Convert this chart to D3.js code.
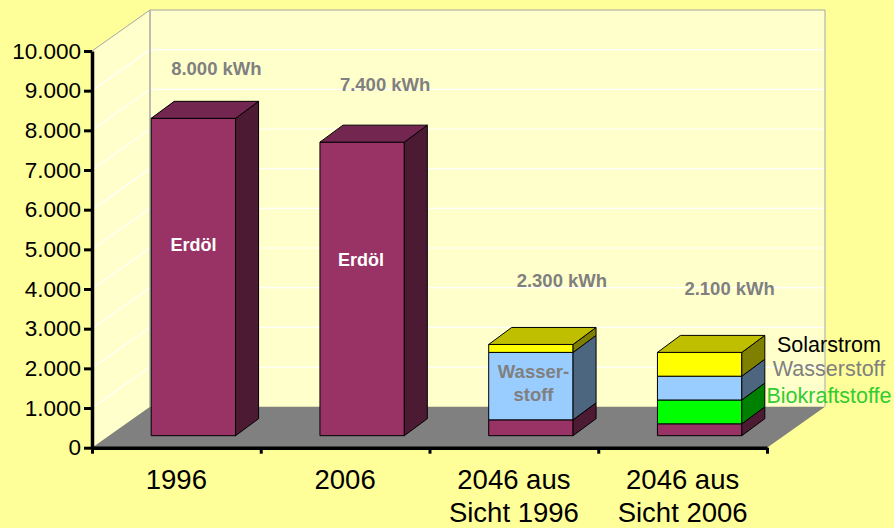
<!DOCTYPE html>
<html>
<head>
<meta charset="utf-8">
<script src="https://cdn.jsdelivr.net/npm/d3@7"></script>
<style>
  body { margin: 0; background: #ffff99; }
  svg { display: block; font-family: "Liberation Sans", Arial, sans-serif; }
</style>
</head>
<body>
<div id="chartPlaceholder"></div>
<script>
const categories = ["1996", "2006", "2046 aus|Sicht 1996", "2046 aus|Sicht 2006"];
const erdoel = [8000, 7400, 400, 300];
const biokraftstoffe = [0, 0, 0, 600];
const wasserstoff = [0, 0, 1700, 600];
const solarstrom = [0, 0, 200, 600];
const totalLabels = ["8.000 kWh", "7.400 kWh", "2.300 kWh", "2.100 kWh"];
const yTicks = [0, 1000, 2000, 3000, 4000, 5000, 6000, 7000, 8000, 9000, 10000];

const seriesKeys = ["erdoel", "biokraftstoffe", "wasserstoff", "solarstrom"];
const seriesValues = { erdoel, biokraftstoffe, wasserstoff, solarstrom };

// face colours per series
const colors = {
  erdoel: { front: "#993366", side: "#4d1a33", top: "#732650" },
  biokraftstoffe: { front: "#00ff00", side: "#008000", top: "#00bf00" },
  wasserstoff: { front: "#99ccff", side: "#4d6680", top: "#7399bf" },
  solarstrom: { front: "#ffff00", side: "#808000", top: "#bfbf00" },
};

const width = 894,
  height = 528;
const plot = { left: 92, right: 767, top: 51, bottom: 447.7 };
// 3d offsets: whole floor depth, front of the bars, back of the bars
const depth = { x: 58, y: -41 };
const barFront = { x: 17, y: -12 };
const barBack = { x: 40, y: -29 };

const svg = d3.select("#chartPlaceholder").append("svg").attr("width", width).attr("height", height);

const x = d3.scaleBand().domain(d3.range(categories.length)).range([plot.left, plot.right]);
const xEdge = d3.scaleLinear().domain([0, categories.length]).range([plot.left, plot.right]);
const y = d3.scaleLinear().domain([0, 10000]).range([plot.bottom, plot.top]);
const barWidth = x.bandwidth() / 2;

const wallColor = "#ffffcc";
const wallLine = "#a6a6a6";
const poly = (pts) => pts.map((p) => p.join(",")).join(" ");

// left wall, back wall, floor
svg
  .append("polygon")
  .attr("points", poly([
    [plot.left, plot.bottom],
    [plot.left, plot.top],
    [plot.left + depth.x, plot.top + depth.y],
    [plot.left + depth.x, plot.bottom + depth.y],
  ]))
  .attr("fill", wallColor);
svg
  .append("polygon")
  .attr("points", poly([
    [plot.left + depth.x, plot.top + depth.y],
    [plot.right + depth.x, plot.top + depth.y],
    [plot.right + depth.x, plot.bottom + depth.y],
    [plot.left + depth.x, plot.bottom + depth.y],
  ]))
  .attr("fill", wallColor);

// grid lines run over both walls
svg
  .append("g")
  .selectAll("polyline")
  .data(yTicks.slice(1, -1))
  .join("polyline")
  .attr("points", (d) =>
    poly([
      [plot.left, y(d)],
      [plot.left + depth.x, y(d) + depth.y],
      [plot.right + depth.x, y(d) + depth.y],
    ])
  )
  .attr("fill", "none")
  .attr("stroke", "#ffffff")
  .attr("stroke-width", 1.2);

// wall outline
svg
  .append("polyline")
  .attr("points", poly([
    [plot.left, plot.top],
    [plot.left + depth.x, plot.top + depth.y],
    [plot.right + depth.x, plot.top + depth.y],
    [plot.right + depth.x, plot.bottom + depth.y],
  ]))
  .attr("fill", "none")
  .attr("stroke", wallLine)
  .attr("stroke-width", 1);
svg
  .append("line")
  .attr("x1", plot.left + depth.x)
  .attr("x2", plot.left + depth.x)
  .attr("y1", plot.top + depth.y)
  .attr("y2", plot.bottom + depth.y)
  .attr("stroke", wallLine)
  .attr("stroke-width", 1.5);

svg
  .append("polygon")
  .attr("points", poly([
    [plot.left, plot.bottom],
    [plot.left + depth.x, plot.bottom + depth.y],
    [plot.right + depth.x, plot.bottom + depth.y],
    [plot.right, plot.bottom],
  ]))
  .attr("fill", "#808080");

// stacked bars
const rows = categories.map((c, i) => {
  const row = { index: i };
  seriesKeys.forEach((k) => (row[k] = seriesValues[k][i]));
  return row;
});
const stacked = d3.stack().keys(seriesKeys)(rows);

const segments = [];
stacked.forEach((layer) => {
  layer.forEach((d) => {
    if (d[1] > d[0]) segments.push({ key: layer.key, i: d.data.index, y0: d[0], y1: d[1] });
  });
});

const barsG = svg.append("g").attr("stroke", "#000000").attr("stroke-width", 1).attr("stroke-linejoin", "round");
const bx = (i) => x(i) + x.bandwidth() / 4 + barFront.x;
const by = (v) => y(v) + barFront.y;
const sideX = barBack.x - barFront.x;
const sideY = barBack.y - barFront.y;

segments.forEach((s) => {
  const left = bx(s.i);
  const right = left + barWidth;
  const top = by(s.y1);
  const bottom = by(s.y0);

  barsG
    .append("rect")
    .attr("x", left)
    .attr("y", top)
    .attr("width", barWidth)
    .attr("height", bottom - top)
    .attr("fill", colors[s.key].front);

  barsG
    .append("polygon")
    .attr("points", poly([
      [right, bottom],
      [right, top],
      [right + sideX, top + sideY],
      [right + sideX, bottom + sideY],
    ]))
    .attr("fill", colors[s.key].side);
});

// only the highest segment of a bar shows its top face
d3.rollups(
  segments,
  (v) => v[v.length - 1],
  (s) => s.i
).forEach(([i, s]) => {
  const left = bx(i);
  const right = left + barWidth;
  const top = by(s.y1);
  barsG
    .append("polygon")
    .attr("points", poly([
      [left, top],
      [right, top],
      [right + sideX, top + sideY],
      [left + sideX, top + sideY],
    ]))
    .attr("fill", colors[s.key].top);
});

// axes
const deLocale = d3.formatLocale({ decimal: ",", thousands: ".", grouping: [3], currency: ["", " €"] });

const yAxis = svg
  .append("g")
  .attr("transform", `translate(${plot.left}, 0)`)
  .call(d3.axisLeft(y).tickValues(yTicks).tickSize(8).tickSizeOuter(0).tickPadding(3).tickFormat(deLocale.format(",")));
yAxis.selectAll("text").style("font-size", "22.5px").attr("fill", "#000000");

svg
  .append("g")
  .attr("transform", `translate(0, ${plot.bottom})`)
  .call(d3.axisBottom(xEdge).ticks(categories.length).tickSize(6).tickSizeOuter(0).tickFormat(""));

svg.selectAll(".domain").attr("stroke", "#000000").attr("stroke-width", 3.5);
svg.selectAll(".tick line").attr("stroke", "#000000").attr("stroke-width", 3);

// category labels, two lines where the name has a break
const catText = svg
  .append("g")
  .selectAll("text")
  .data(categories)
  .join("text")
  .attr("text-anchor", "middle")
  .attr("font-size", 27.5)
  .attr("fill", "#000000");
catText
  .selectAll("tspan")
  .data((d, i) => d.split("|").map((t) => ({ t, i })))
  .join("tspan")
  .attr("x", (d) => x(d.i) + x.bandwidth() / 2)
  .attr("y", (d, j) => 489 + j * 33)
  .text((d) => d.t);

// total labels float above the bars, each by hand like in the original slide
const totalLift = [49, 57, 63, 63];
const totalShift = [23, 23, 31, 30];
svg
  .append("g")
  .selectAll("text")
  .data(totalLabels)
  .join("text")
  .attr("text-anchor", "middle")
  .attr("font-size", 18.5)
  .attr("font-weight", "bold")
  .attr("fill", "#808080")
  .attr("x", (d, i) => bx(i) + barWidth / 2 + totalShift[i])
  .attr("y", (d, i) => by(d3.sum(seriesKeys, (k) => seriesValues[k][i])) - totalLift[i] + 6)
  .text((d) => d);

// annotations inside and beside the bars
const notes = [
  { text: "Erdöl", x: 193.5, y: 251, size: 18, weight: "bold", fill: "#ffffff" },
  { text: "Erdöl", x: 361, y: 266, size: 18, weight: "bold", fill: "#ffffff" },
  { text: "Wasser-", x: 533.5, y: 378, size: 18.5, weight: "bold", fill: "#808080" },
  { text: "stoff", x: 533.5, y: 401, size: 18.5, weight: "bold", fill: "#808080" },
  { text: "Solarstrom", x: 829, y: 352, size: 21.5, weight: "normal", fill: "#000000" },
  { text: "Wasserstoff", x: 829, y: 376, size: 21.5, weight: "normal", fill: "#808080" },
  { text: "Biokraftstoffe", x: 829, y: 403, size: 21.5, weight: "normal", fill: "#33cc33" },
];
svg
  .append("g")
  .selectAll("text")
  .data(notes)
  .join("text")
  .attr("text-anchor", "middle")
  .attr("x", (d) => d.x)
  .attr("y", (d) => d.y)
  .attr("font-size", (d) => d.size)
  .attr("font-weight", (d) => d.weight)
  .attr("fill", (d) => d.fill)
  .text((d) => d.text);
</script>
</body>
</html>
